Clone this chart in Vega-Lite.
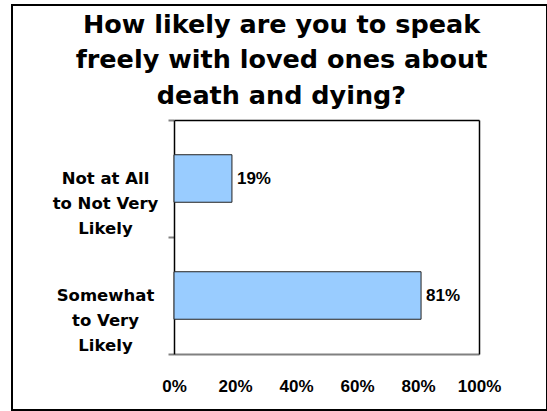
{
  "$schema": "https://vega.github.io/schema/vega-lite/v6.json",
  "width": 535,
  "height": 405,
  "autosize": {"type": "none"},
  "padding": {"left": 12, "top": 5, "right": 0, "bottom": 1},
  "background": "#ffffff",
  "config": {
    "view": {"stroke": "#000000", "strokeWidth": 2},
    "font": "DejaVu Sans"
  },
  "title": {
    "text": ["How likely are you to speak", "freely with loved ones about", "death and dying?"],
    "font": "DejaVu Sans",
    "fontSize": 25.5,
    "fontWeight": "bold",
    "lineHeight": 35.5,
    "color": "#000000",
    "anchor": "middle",
    "frame": "group",
    "baseline": "top",
    "dx": 2,
    "offset": -112
  },
  "data": {
    "values": [
      {"response": "Not at All|to Not Very|Likely", "share": 0.19},
      {"response": "Somewhat|to Very|Likely", "share": 0.81}
    ]
  },
  "layer": [
    {
      "mark": {"type": "bar", "fill": "#99CCFF", "stroke": "#222222", "strokeWidth": 1, "height": {"band": 0.406}},
      "encoding": {
        "x": {
          "field": "share",
          "type": "quantitative",
          "scale": {"domain": [0, 1], "range": [162, 467]},
          "axis": {
            "orient": "bottom",
            "offset": -56,
            "title": null,
            "format": ".0%",
            "values": [0, 0.2, 0.4, 0.6, 0.8, 1],
            "ticks": false,
            "grid": false,
            "labelFlush": false,
            "labelOverlap": false,
            "domainColor": "#808080",
            "domainWidth": 2,
            "labelFont": "Liberation Sans",
            "labelFontSize": 17,
            "labelFontWeight": "bold",
            "labelColor": "#000000",
            "labelPadding": 24
          }
        },
        "y": {
          "field": "response",
          "type": "nominal",
          "sort": null,
          "scale": {"range": [115, 349], "paddingInner": 0, "paddingOuter": 0},
          "axis": {
            "orient": "left",
            "offset": -162,
            "title": null,
            "domainColor": "#000000",
            "domainWidth": 1.5,
            "tickBand": "extent",
            "tickColor": "#808080",
            "tickSize": 6,
            "tickWidth": 2,
            "labelAlign": "center",
            "labelBaseline": "middle",
            "labelPadding": 63,
            "labelExpr": "split(datum.label, '|')",
            "labelFont": "DejaVu Sans",
            "labelFontSize": 16.5,
            "labelFontWeight": "bold",
            "labelLineHeight": 25,
            "labelColor": "#000000"
          }
        }
      }
    },
    {
      "mark": {
        "type": "text",
        "align": "left",
        "baseline": "middle",
        "dx": 5,
        "font": "Liberation Sans",
        "fontSize": 17,
        "fontWeight": "bold",
        "color": "#000000"
      },
      "encoding": {
        "text": {"field": "share", "type": "quantitative", "format": ".0%"},
        "x": {
          "field": "share",
          "type": "quantitative",
          "scale": {"domain": [0, 1], "range": [162, 467]},
          "axis": {
            "orient": "top",
            "offset": -115,
            "title": null,
            "labels": false,
            "ticks": false,
            "grid": false,
            "domainColor": "#000000",
            "domainWidth": 1.5
          }
        },
        "y": {
          "field": "response",
          "type": "nominal",
          "sort": null,
          "scale": {"range": [115, 349], "paddingInner": 0, "paddingOuter": 0},
          "axis": {
            "orient": "right",
            "offset": -68,
            "title": null,
            "labels": false,
            "ticks": false,
            "grid": false,
            "domainColor": "#000000",
            "domainWidth": 1.5
          }
        }
      }
    }
  ],
  "resolve": {"axis": {"x": "independent", "y": "independent"}}
}
